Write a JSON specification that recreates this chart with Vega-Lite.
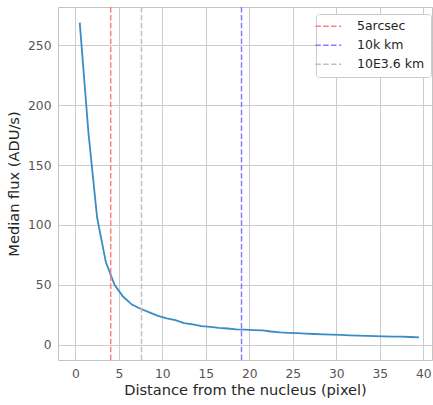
{
  "$schema": "https://vega.github.io/schema/vega-lite/v6.json",
  "autosize": {"type": "none"},
  "padding": {"left": 58, "top": 7, "right": 1, "bottom": 45},
  "width": 374,
  "height": 353,
  "background": "white",
  "config": {
    "font": "DejaVu Sans",
    "view": {"stroke": "#c4c4c4", "strokeWidth": 1},
    "axis": {
      "domain": false,
      "ticks": false,
      "grid": true,
      "gridColor": "#cccccc",
      "gridWidth": 1,
      "labelFont": "DejaVu Sans",
      "labelFontSize": 12.3,
      "labelColor": "#555555",
      "titleFont": "DejaVu Sans",
      "titleFontSize": 14.6,
      "titleFontWeight": "normal",
      "titleColor": "#262626"
    }
  },
  "datasets": {
    "profile": [
      {"r": 0.5, "flux": 269},
      {"r": 1.5, "flux": 177},
      {"r": 2.5, "flux": 106},
      {"r": 3.5, "flux": 69},
      {"r": 4.5, "flux": 50},
      {"r": 5.5, "flux": 40},
      {"r": 6.5, "flux": 33.5},
      {"r": 7.5, "flux": 30},
      {"r": 8.5, "flux": 27},
      {"r": 9.5, "flux": 24},
      {"r": 10.5, "flux": 22},
      {"r": 11.5, "flux": 20.5},
      {"r": 12.5, "flux": 18},
      {"r": 13.5, "flux": 17},
      {"r": 14.5, "flux": 15.5},
      {"r": 15.5, "flux": 14.8},
      {"r": 16.5, "flux": 14},
      {"r": 17.5, "flux": 13.5},
      {"r": 18.5, "flux": 12.8},
      {"r": 19.5, "flux": 12.5},
      {"r": 20.5, "flux": 12.2},
      {"r": 21.5, "flux": 12},
      {"r": 22.5, "flux": 11},
      {"r": 23.5, "flux": 10.2},
      {"r": 24.5, "flux": 9.9},
      {"r": 25.5, "flux": 9.6},
      {"r": 26.5, "flux": 9.2},
      {"r": 27.5, "flux": 8.9},
      {"r": 28.5, "flux": 8.6},
      {"r": 29.5, "flux": 8.4},
      {"r": 30.5, "flux": 8.1},
      {"r": 31.5, "flux": 7.8},
      {"r": 32.5, "flux": 7.6},
      {"r": 33.5, "flux": 7.4},
      {"r": 34.5, "flux": 7.1},
      {"r": 35.5, "flux": 6.9},
      {"r": 36.5, "flux": 6.8},
      {"r": 37.5, "flux": 6.7},
      {"r": 38.5, "flux": 6.4},
      {"r": 39.5, "flux": 6.1}
    ],
    "marks": [
      {"x": 4.06, "label": "5arcsec"},
      {"x": 19.1, "label": "10k km"},
      {"x": 7.6, "label": "10E3.6 km"}
    ]
  },
  "layer": [
    {
      "data": {"name": "profile"},
      "mark": {"type": "line", "color": "#3a8cc4", "strokeWidth": 1.8},
      "encoding": {
        "x": {
          "field": "r", "type": "quantitative",
          "scale": {"domain": [-2, 41], "nice": false, "zero": false},
          "axis": {"values": [0, 5, 10, 15, 20, 25, 30, 35, 40], "title": "Distance from the nucleus (pixel)", "labelPadding": 7, "titlePadding": 3}
        },
        "y": {
          "field": "flux", "type": "quantitative",
          "scale": {"domain": [-12.8, 282], "nice": false, "zero": false},
          "axis": {"values": [0, 50, 100, 150, 200, 250], "title": "Median flux (ADU/s)", "labelPadding": 7, "titlePadding": 6}
        }
      }
    },
    {
      "data": {"name": "marks"},
      "mark": {"type": "rule", "strokeDash": [5.5, 2.4], "strokeWidth": 1.5},
      "encoding": {
        "x": {"field": "x", "type": "quantitative"},
        "color": {
          "field": "label", "type": "nominal",
          "scale": {"domain": ["5arcsec", "10k km", "10E3.6 km"], "range": ["#ff8080", "#8080ff", "#c0c0c0"]},
          "legend": {
            "title": null,
            "orient": "none",
            "legendX": 258,
            "legendY": 7,
            "symbolType": "M-3,0H3",
            "symbolSize": 75,
            "symbolStrokeWidth": 1.5,
            "symbolDash": [5.5, 2.4],
            "labelFont": "DejaVu Sans",
            "labelFontSize": 12.5,
            "labelColor": "#262626",
            "labelOffset": 22.5,
            "rowPadding": 6,
            "padding": 6,
            "fillColor": "white",
            "strokeColor": "#cccccc",
            "cornerRadius": 3
          }
        }
      }
    }
  ]
}
